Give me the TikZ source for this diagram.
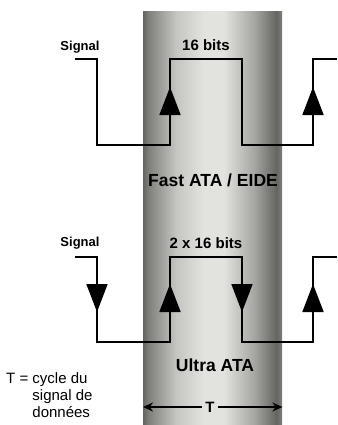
\documentclass[tikz,border=0pt]{standalone}
\usepackage{fontspec}
\setmainfont{Liberation Sans}
\usetikzlibrary{arrows.meta, positioning}
\definecolor{coledge}{RGB}{100, 101, 97}
\definecolor{colshadow}{RGB}{128, 129, 125}
\definecolor{colmid}{RGB}{198, 198, 195}
\definecolor{collight}{RGB}{226, 227, 223}
\definecolor{colfade}{RGB}{165, 166, 162}
\pgfdeclarehorizontalshading{columnshade}{100bp}{color(0bp)=(coledge); color(25bp)=(coledge); color(27bp)=(colshadow); color(37bp)=(colmid); color(47bp)=(collight); color(54bp)=(collight); color(65bp)=(colfade); color(73bp)=(coledge); color(75bp)=(colshadow); color(100bp)=(colshadow)}
\tikzstyle{wave} = [line width=1.8pt, black, line join=miter]
\tikzstyle{wavetip} = [-{Triangle[width=21pt, length=28pt]}, line width=1.8pt]
\tikzstyle{sigtext} = [font=\bfseries\fontsize{13}{15}\selectfont]
\tikzstyle{bitstext} = [font=\bfseries\fontsize{15}{17}\selectfont]
\tikzstyle{modetext} = [font=\bfseries\fontsize{17.5}{20}\selectfont]
\tikzstyle{deftext} = [font=\fontsize{15}{17}\selectfont, align=left, inner sep=0pt]
\tikzstyle{dimarrow} = [-{Stealth[length=10pt, width=9pt]}, line width=1.5pt]

\begin{document}
\begin{tikzpicture}[x=1pt, y=-1pt]
    \useasboundingbox (0,0) rectangle (337,425);
    \fill[white] (0,0) rectangle (337,425);

    % Column
    \node[shade, shading=columnshade, minimum width=139pt, minimum height=414pt, inner sep=0pt, anchor=north west] (column) at (143,11) {};

    % Fast ATA / EIDE
    \draw[wave] (75,59) -- (97,59) -- (97,145) -- (170,145) -- (170,59) -- (242,59) -- (242,145) -- (313,145) -- (313,59) -- (337,59);
    \draw[wavetip] (170,116) -- (170,87);
    \draw[wavetip] (313,116) -- (313,87);
    \node[sigtext] (sigfast) at (80,47) {Signal};
    \node[bitstext] (bitsfast) at (206,45) {16 bits};
    \node[modetext] (fast) at (213,180) {Fast ATA / EIDE};

    % Ultra ATA
    \draw[wave] (75,257) -- (97,257) -- (97,342) -- (170,342) -- (170,257) -- (242,257) -- (242,342) -- (313,342) -- (313,257) -- (337,257);
    \draw[wavetip] (97,282) -- (97,312);
    \draw[wavetip] (170,313) -- (170,284);
    \draw[wavetip] (242,282) -- (242,312);
    \draw[wavetip] (313,313) -- (313,284);
    \node[sigtext] (sigultra) at (80,243) {Signal};
    \node[bitstext] (bitsultra) at (206,243) {2 x 16 bits};
    \node[modetext] (ultra) at (215,365) {Ultra ATA};

    % Cycle T
    \node[bitstext, inner sep=3pt] (period) at (210,407) {T};
    \draw[dimarrow] (period) -- (column.west |- period);
    \draw[dimarrow] (period) -- (column.east |- period);
    \node[deftext, anchor=north west] (tdef) at (6,372) {T = cycle du\\\phantom{T = }signal de\\\phantom{T = }données};
\end{tikzpicture}
\end{document}
